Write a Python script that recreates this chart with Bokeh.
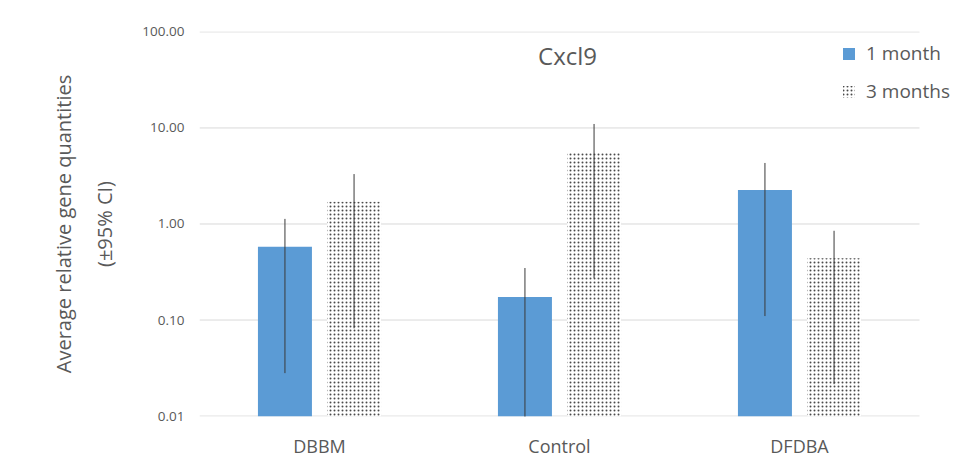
from bokeh.plotting import figure
from bokeh.models import (ColumnDataSource, Range1d, FixedTicker,
                          CustomJSTickFormatter, Label, Legend, LegendItem, LogAxis)
from bokeh.transform import dodge
from bokeh.embed import file_html
from bokeh.resources import INLINE

# ---- data ----
categories = ["DBBM", "Control", "DFDBA"]
month1 = [0.58, 0.174, 2.26]
month1_low = [0.028, 0.001, 0.11]
month1_high = [1.13, 0.348, 4.32]
month3 = [1.70, 5.5, 0.44]
month3_low = [0.082, 0.274, 0.0215]
month3_high = [3.31, 11.0, 0.85]
y_ticks = [0.01, 0.1, 1, 10, 100]
series_names = ["1 month", "3 months"]
title_text = "Cxcl9"
ylabel_line1 = "Average relative gene quantities"
ylabel_line2 = "(\u00b195% CI)"

FONT = "Open Sans"
GRAY = "#595959"
BLUE = "#5b9bd5"
GRID = "#d9d9d9"

n = len(categories)
centers = [i + 0.5 for i in range(n)]
src = ColumnDataSource(dict(xc=centers, m1=month1, m1_lo=month1_low, m1_hi=month1_high,
                            m3=month3, m3_lo=month3_low, m3_hi=month3_high,
                            base=[0.001] * n))
grid_src = ColumnDataSource(dict(y=y_ticks, x0=[0] * len(y_ticks), x1=[n] * len(y_ticks)))

# x range extended on the right so the legend (outside the category area in the
# reference) fits inside the frame; grid lines are drawn only over the categories
p = figure(width=977, height=464,
           x_range=Range1d(0, n + 58 / 240),
           y_range=Range1d(0.0099, 101), y_axis_type="log",
           output_backend="svg", toolbar_location=None,
           min_border_left=199, min_border_right=0, min_border_top=31, min_border_bottom=48)
p.outline_line_color = None
p.background_fill_color = "white"
p.border_fill_color = "white"
p.xgrid.grid_line_color = None
p.ygrid.grid_line_color = None
p.ygrid.minor_grid_line_color = None

p.segment(x0="x0", y0="y", x1="x1", y1="y", source=grid_src, line_color=GRID, line_width=1)

off = 0.144
bw = 0.225
r1 = p.vbar(x=dodge("xc", -off), top="m1", bottom="base", width=bw,
            source=src, fill_color=BLUE, line_color=None)
r3 = p.vbar(x=dodge("xc", off), top="m3", bottom="base", width=bw,
            source=src, fill_color="white", line_color=None,
            hatch_pattern=".", hatch_scale=4, hatch_weight=1, hatch_color="#4a4a4a")

p.segment(x0=dodge("xc", -off), y0="m1_lo", x1=dodge("xc", -off), y1="m1_hi",
          source=src, line_color="#3a3a3a", line_width=1)
p.segment(x0=dodge("xc", off), y0="m3_lo", x1=dodge("xc", off), y1="m3_hi",
          source=src, line_color="#3a3a3a", line_width=1)

# y axis (inner): tick labels + second line of the axis title
p.yaxis.ticker = FixedTicker(ticks=y_ticks, minor_ticks=[])
p.yaxis.formatter = CustomJSTickFormatter(code="return tick.toFixed(2)")
p.yaxis.axis_line_color = None
p.yaxis.major_tick_line_color = None
p.yaxis.minor_tick_line_color = None
p.yaxis.major_tick_out = 0
p.yaxis.major_label_standoff = 15
p.yaxis.major_label_text_font = FONT
p.yaxis.major_label_text_font_size = "13.5px"
p.yaxis.major_label_text_color = GRAY
p.yaxis.axis_label = ylabel_line2
p.yaxis.axis_label_standoff = 21
p.yaxis.axis_label_text_font = FONT
p.yaxis.axis_label_text_font_size = "20px"
p.yaxis.axis_label_text_font_style = "normal"
p.yaxis.axis_label_text_color = GRAY

# outer axis carrying only the first line of the axis title
outer = LogAxis(ticker=FixedTicker(ticks=[], minor_ticks=[]), axis_line_color=None,
                major_tick_line_color=None, minor_tick_line_color=None,
                major_tick_out=0, major_label_standoff=0,
                axis_label=ylabel_line1, axis_label_standoff=12,
                axis_label_text_font=FONT, axis_label_text_font_size="20px",
                axis_label_text_font_style="normal", axis_label_text_color=GRAY)
p.add_layout(outer, "left")

# x axis: category names at the category centres
p.xaxis.ticker = FixedTicker(ticks=centers, minor_ticks=[])
p.xaxis.formatter = CustomJSTickFormatter(args=dict(cats=categories),
                                          code="return cats[Math.floor(tick)]")
p.xaxis.axis_line_color = None
p.xaxis.major_tick_line_color = None
p.xaxis.minor_tick_line_color = None
p.xaxis.major_tick_out = 0
p.xaxis.major_label_standoff = 17
p.xaxis.major_label_text_font = FONT
p.xaxis.major_label_text_font_size = "18px"
p.xaxis.major_label_text_color = GRAY

# title inside the plot
p.add_layout(Label(x=368, y=361, x_units="screen", y_units="screen", text=title_text,
                   text_font=FONT, text_font_size="24px", text_color=GRAY,
                   text_align="center", text_baseline="middle"))

legend = Legend(items=[LegendItem(label=series_names[0], renderers=[r1]),
                       LegendItem(label=series_names[1], renderers=[r3])],
                location=(642, 312), orientation="vertical",
                glyph_width=15, glyph_height=15, label_height=20, spacing=12,
                label_standoff=10, padding=0, margin=0,
                border_line_color=None, background_fill_alpha=0,
                label_text_font=FONT, label_text_font_size="19px", label_text_color=GRAY)
p.add_layout(legend)

open("out.html", "w").write(file_html(p, INLINE))
